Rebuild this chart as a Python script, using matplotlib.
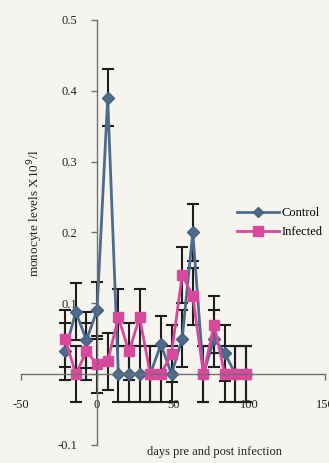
import numpy as np
import matplotlib
matplotlib.use("Agg")
import matplotlib.pyplot as plt
from matplotlib.lines import Line2D

plt.rcParams['font.family'] = ['Liberation Serif', 'DejaVu Serif']

# sampling days relative to infection
days = [-21, -14, -7, 0, 7, 14, 21, 28, 35, 42, 49, 56, 63, 70, 77, 84, 91, 98]

# monocyte levels (X10^9/l)
control = [0.032, 0.088, 0.048, 0.090, 0.390, 0.0, 0.0, 0.0, 0.0, 0.042,
           0.0, 0.050, 0.200, 0.0, 0.050, 0.030, 0.0, 0.0]
control_err = [0.04] * 18

infected = [0.050, 0.0, 0.032, 0.014, 0.018, 0.080, 0.032, 0.080, 0.0, 0.0,
            0.029, 0.140, 0.110, 0.0, 0.070, 0.0, 0.0, 0.0]
infected_err = [0.04] * 18

xticks = [-50, 0, 50, 100, 150]
yticks = [-0.1, 0, 0.1, 0.2, 0.3, 0.4, 0.5]
ytick_labels = ["-0.1", "0", "0.1", "0.2", "0.3", "0.4", "0.5"]

blue = '#4d6b8c'
pink = '#d8489c'
bg = "#f6f4ef"
fig = plt.figure(figsize=(3.29, 4.63), dpi=100, facecolor=bg)
ax = fig.add_axes([0.064, 0.039, 0.924, 0.918], facecolor=bg)

ax.errorbar(days, control, yerr=control_err, fmt='-D', color=blue,
            mec='#46617f', ms=6, lw=2, ecolor='#1e1e1e', elinewidth=1.5,
            capsize=4.5, capthick=1.5)
ax.errorbar(days, infected, yerr=infected_err, fmt='-s', color=pink,
            ms=7.5, lw=2, ecolor='#1e1e1e', elinewidth=1.5,
            capsize=4.5, capthick=1.5)

ax.set_xlim(-50, 150)
ax.set_ylim(-0.1, 0.5)
ax.spines['left'].set_position(('data', 0))
ax.spines['bottom'].set_position(('data', 0))
ax.spines['top'].set_visible(False)
ax.spines['right'].set_visible(False)
for s in ['left', 'bottom']:
    ax.spines[s].set_color('#707070')
    ax.spines[s].set_linewidth(1)

ax.set_xticks(xticks)
ax.set_xticklabels([str(t) for t in xticks])
ax.set_yticks(yticks)
ax.set_yticklabels(ytick_labels)
ax.tick_params(axis='both', direction='out', length=4, width=1,
               color='#707070', labelsize=9, labelcolor='#222222')
ax.tick_params(axis='y', pad=10)
ax.tick_params(axis='x', pad=14)

fig.text(0.107, 0.54, "monocyte levels X10$^{9}$/l", rotation=90,
         ha='center', va='center', fontsize=9.5, color='#222222')
fig.text(0.653, 0.024, "days pre and post infection", ha='center',
         va='center', fontsize=9, color='#222222')

# legend shows plain line + marker, no error bars
handles = [Line2D([], [], color=blue, marker='D', ms=5, mec='#46617f', lw=2),
           Line2D([], [], color=pink, marker='s', ms=6.5, lw=2)]
fig.legend(handles, ['Control', 'Infected'], loc='center left',
           bbox_to_anchor=(0.72, 0.519), bbox_transform=fig.transFigure,
           frameon=False, fontsize=9, handlelength=3.4, handletextpad=0.2,
           labelspacing=0.55, borderpad=0, borderaxespad=0)

fig.savefig("out.png", dpi=100, facecolor=bg)
